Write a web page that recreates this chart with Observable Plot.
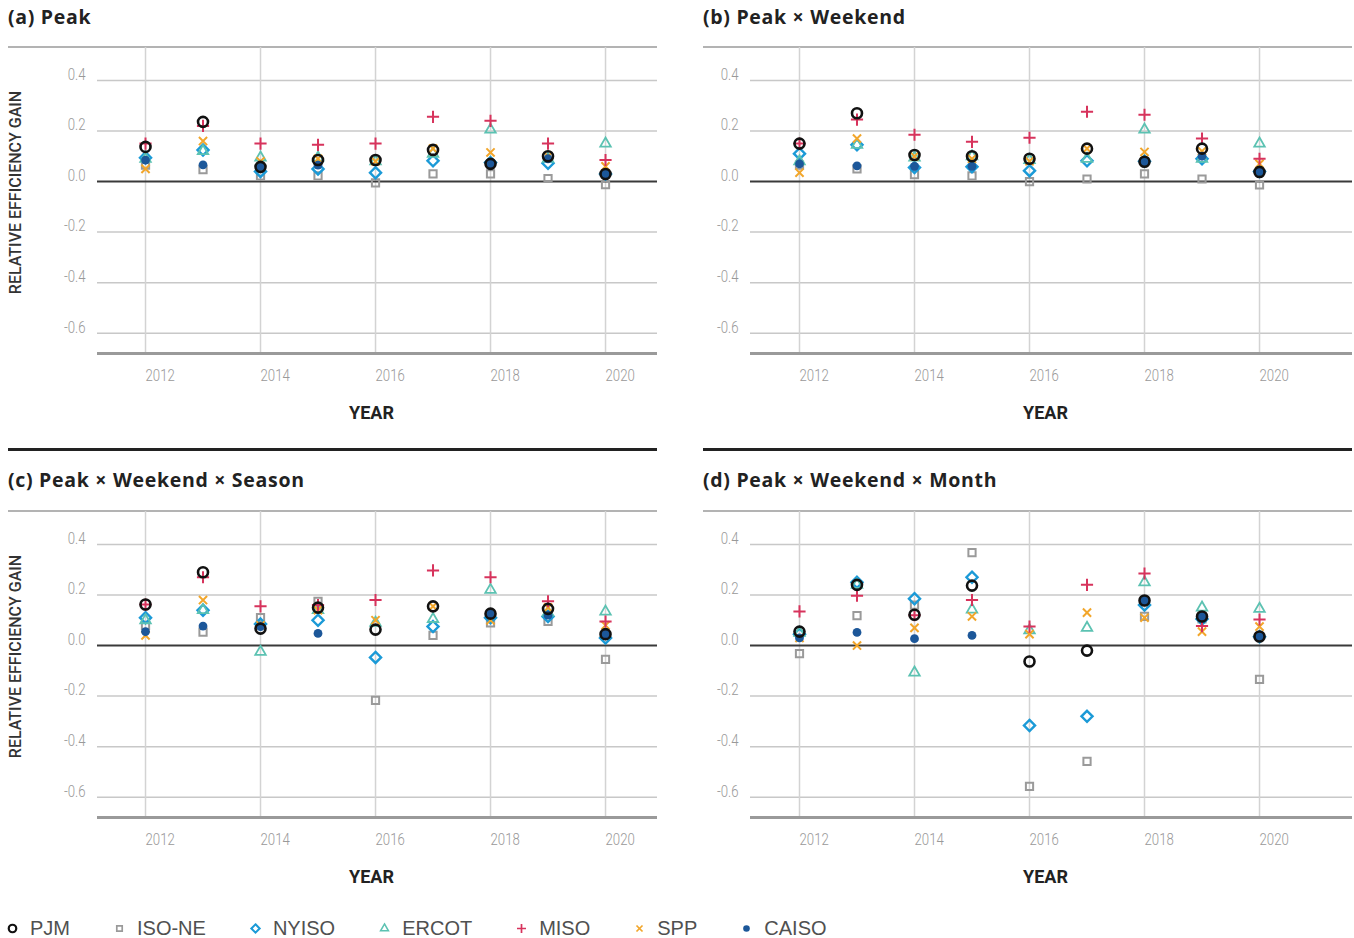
<!DOCTYPE html>
<html>
<head>
<meta charset="utf-8">
<script src="https://cdn.jsdelivr.net/npm/d3@7"></script>
<script src="https://cdn.jsdelivr.net/npm/@observablehq/plot@0.6"></script>
<style>
  body { margin: 0; background: #fff; }
  #root { position: relative; width: 1354px; height: 938px; overflow: hidden; background: #fff; }
  .title { position: absolute; font-family: "Open Sans", sans-serif; font-weight: 700; font-size: 19.5px; letter-spacing: 0.7px; line-height: 20px; color: #222; white-space: nowrap; }
  .rule { position: absolute; height: 2px; background: #b3b3b3; }
  .sep { position: absolute; height: 3px; background: #222; }
  .panel { position: absolute; }
  .legend { position: absolute; left: 5px; top: 915px; height: 26px; display: flex; align-items: center;
            font-family: "Liberation Sans", Arial, sans-serif; font-size: 20px; color: #505050; }
  .legend .item { display: flex; align-items: center; margin-right: 42px; }
  .legend .item span { margin-left: 11px; }
</style>
</head>
<body>
<div id="root"></div>
<script>
// ---------- data ----------
const years = [2012, 2013, 2014, 2015, 2016, 2017, 2018, 2019, 2020];
const seriesNames = ["PJM", "ISO-NE", "NYISO", "ERCOT", "MISO", "SPP", "CAISO"];
const xTicks = [2012, 2014, 2016, 2018, 2020];
const yTicks = [-0.6, -0.4, -0.2, 0, 0.2, 0.4];
const panelTitles = ["(a) Peak", "(b) Peak × Weekend", "(c) Peak × Weekend × Season", "(d) Peak × Weekend × Month"];
const xAxisLabel = "YEAR";
const yAxisLabel = "RELATIVE EFFICIENCY GAIN";

// rows follow seriesNames order, columns follow years
const peak = [
  [0.137, 0.236, 0.058, 0.085, 0.085, 0.125, 0.070, 0.100, 0.030],
  [0.065, 0.047, 0.022, 0.022, -0.005, 0.030, 0.030, 0.012, -0.012],
  [0.094, 0.125, 0.040, 0.050, 0.035, 0.082, 0.075, 0.072, 0.030],
  [0.090, 0.120, 0.095, 0.095, 0.080, 0.110, 0.205, 0.090, 0.150],
  [0.150, 0.220, 0.150, 0.145, 0.150, 0.256, 0.240, 0.150, 0.085],
  [0.050, 0.160, 0.080, 0.090, 0.080, 0.130, 0.115, 0.100, 0.060],
  [0.085, 0.066, 0.060, 0.065, null, null, 0.070, 0.090, 0.030]
];
const peakWeekend = [
  [0.150, 0.270, 0.105, 0.100, 0.090, 0.130, 0.078, 0.130, 0.038],
  [0.065, 0.050, 0.027, 0.022, 0.000, 0.010, 0.030, 0.010, -0.013],
  [0.110, 0.145, 0.055, 0.058, 0.043, 0.082, 0.080, 0.090, 0.040],
  [0.080, 0.145, 0.095, 0.100, 0.085, 0.090, 0.205, 0.090, 0.150],
  [0.150, 0.245, 0.185, 0.157, 0.173, 0.276, 0.264, 0.170, 0.090],
  [0.035, 0.170, 0.100, 0.090, 0.080, 0.130, 0.117, 0.120, 0.070],
  [0.070, 0.062, 0.060, 0.060, null, null, 0.078, 0.100, 0.040]
];
const peakWeekendSeason = [
  [0.162, 0.290, 0.067, 0.150, 0.063, 0.155, 0.126, 0.145, 0.045],
  [0.080, 0.053, 0.110, 0.175, -0.217, 0.040, 0.090, 0.095, -0.055],
  [0.110, 0.140, 0.085, 0.100, -0.047, 0.075, 0.110, 0.115, 0.030],
  [0.100, 0.140, -0.025, 0.140, 0.090, 0.105, 0.220, 0.130, 0.134],
  [0.162, 0.270, 0.155, 0.160, 0.180, 0.297, 0.270, 0.175, 0.095],
  [0.040, 0.180, 0.080, 0.140, 0.100, 0.155, 0.100, 0.150, 0.080],
  [0.055, 0.077, 0.075, 0.048, null, null, 0.125, 0.120, 0.045]
];
const peakWeekendMonth = [
  [0.055, 0.240, 0.122, 0.237, -0.063, -0.020, 0.178, 0.115, 0.036],
  [-0.032, 0.118, 0.160, 0.367, -0.557, -0.458, 0.115, 0.105, -0.134],
  [0.045, 0.250, 0.185, 0.270, -0.316, -0.280, 0.160, 0.105, 0.035],
  [0.050, 0.240, -0.107, 0.142, 0.060, 0.070, 0.250, 0.150, 0.145],
  [0.135, 0.197, 0.120, 0.180, 0.075, 0.240, 0.285, 0.077, 0.103],
  [0.030, 0.000, 0.070, 0.115, 0.045, 0.130, 0.110, 0.055, 0.075],
  [0.030, 0.052, 0.027, 0.040, null, null, 0.178, 0.115, 0.035]
];
const panelValues = [peak, peakWeekend, peakWeekendSeason, peakWeekendMonth];

// ---------- styles ----------
const seriesSymbols = ["circle", "square2", "diamond2", "triangle2", "plus", "times", "circle"];
const seriesColors = ["#111111", "#9a9a9a", "#1b9ad7", "#5cc2b2", "#d7335c", "#f2a62b", "#1c5799"];
const seriesFilled = [false, false, false, false, false, false, true];
const seriesR = [5, 4.6, 5, 5, 4, 3.8, 4.4];
const seriesStrokeW = [2.6, 2, 2.4, 1.8, 2, 2, 0];
const drawOrder = ["ISO-NE", "NYISO", "ERCOT", "SPP", "MISO", "CAISO", "PJM"];

const axisFont = 'Roboto, "Noto Sans", sans-serif';
const yDomain = [-0.68, 0.53];

const root = document.getElementById("root");

function addDiv(cls, css, text) {
  const d = document.createElement("div");
  d.className = cls;
  Object.assign(d.style, css);
  if (text) d.textContent = text;
  root.appendChild(d);
  return d;
}

// condensed look: compress glyph widths in place (chart must be in the DOM)
function squeeze(svg, selector, k) {
  svg.querySelectorAll(selector).forEach(t => {
    const len = t.getComputedTextLength();
    if (len > 0) {
      t.setAttribute("textLength", (len * k).toFixed(1));
      t.setAttribute("lengthAdjust", "spacingAndGlyphs");
    }
  });
}

function tidy(values) {
  const rows = [];
  seriesNames.forEach((s, i) => years.forEach((y, j) => {
    const v = values[i][j];
    if (v !== null && v !== undefined) rows.push({series: s, year: y, value: v});
  }));
  return rows;
}

function panel(values, {left, top, width, marginRight, xDomain, showYLabel}) {
  const rows = tidy(values);
  const dots = drawOrder.map(name => {
    const i = seriesNames.indexOf(name);
    return Plot.dot(rows.filter(d => d.series === name), {
      x: "year", y: "value",
      symbol: seriesSymbols[i],
      r: seriesR[i],
      stroke: seriesFilled[i] ? "none" : seriesColors[i],
      fill: seriesFilled[i] ? seriesColors[i] : "none",
      strokeWidth: seriesStrokeW[i]
    });
  });
  const chart = Plot.plot({
    width, height: 381,
    marginLeft: 97, marginRight, marginTop: 0, marginBottom: 75,
    x: {domain: xDomain},
    y: {domain: yDomain},
    style: {fontFamily: axisFont, background: "transparent", overflow: "visible"},
    marks: [
      Plot.gridY({ticks: yTicks.filter(t => t !== 0), stroke: "#c8c8c8", strokeOpacity: 1, strokeWidth: 1.5}),
      Plot.gridX({ticks: xTicks, stroke: "#d3d3d3", strokeOpacity: 1, strokeWidth: 1.5}),
      Plot.ruleY([0], {stroke: "#3a3a3a", strokeWidth: 2}),
      Plot.ruleY([yDomain[0]], {stroke: "#9a9a9a", strokeWidth: 3}),
      Plot.axisY({ticks: yTicks, tickFormat: d => d.toFixed(1), tickSize: 0, tickPadding: 12,
                  fontSize: 16.5, fontWeight: 300, fill: "#999", dy: -6, label: null}),
      Plot.axisX({ticks: xTicks, tickFormat: d => String(d), tickSize: 0, tickPadding: 16,
                  textAnchor: "start", fontSize: 16.5, fontWeight: 300, fill: "#999", label: null}),
      Plot.text([xAxisLabel], {frameAnchor: "bottom", lineAnchor: "middle", textAnchor: "middle",
                               dy: 60, dx: -6, fontWeight: "bold", fontSize: 18, fill: "#222", ariaLabel: "xlab"}),
      showYLabel ? Plot.text([yAxisLabel], {frameAnchor: "left", textAnchor: "middle", lineAnchor: "middle",
                               rotate: -90, dx: -82, dy: -8, fontSize: 16, fontWeight: 500, fill: "#333", ariaLabel: "ylab"}) : null,
      ...dots
    ]
  });
  chart.classList.add("panel");
  chart.style.left = left + "px";
  chart.style.top = top + "px";
  root.appendChild(chart);
  squeeze(chart, 'g[aria-label="y-axis tick label"] text, g[aria-label="x-axis tick label"] text', 0.8);
  squeeze(chart, 'g[aria-label="xlab"] text', 0.85);
  squeeze(chart, 'g[aria-label="ylab"] text', 0.8);
}

// separators and titles
addDiv("sep", {left: "8px", top: "448px", width: "649px"});
addDiv("sep", {left: "703px", top: "448px", width: "649px"});
addDiv("rule", {left: "8px", top: "46px", width: "649px"});
addDiv("rule", {left: "703px", top: "46px", width: "649px"});
addDiv("rule", {left: "8px", top: "510px", width: "649px"});
addDiv("rule", {left: "703px", top: "510px", width: "649px"});
addDiv("title", {left: "8px", top: "7px"}, panelTitles[0]);
addDiv("title", {left: "703px", top: "7px"}, panelTitles[1]);
addDiv("title", {left: "8px", top: "470px"}, panelTitles[2]);
addDiv("title", {left: "703px", top: "470px"}, panelTitles[3]);

const leftLayout = {width: 660, marginRight: 3, xDomain: [2011.165, 2020.904]};
const rightLayout = {width: 701, marginRight: 2, xDomain: [2011.148, 2021.617]};
panel(panelValues[0], {...leftLayout, left: 0, top: 47, showYLabel: true});
panel(panelValues[1], {...rightLayout, left: 653, top: 47, showYLabel: false});
panel(panelValues[2], {...leftLayout, left: 0, top: 511, showYLabel: true});
panel(panelValues[3], {...rightLayout, left: 653, top: 511, showYLabel: false});

// legend
const legend = addDiv("legend", {});
seriesNames.forEach((name, i) => {
  const item = document.createElement("div");
  item.className = "item";
  const sw = Plot.plot({
    width: 14, height: 20, margin: 0, axis: null,
    style: {background: "transparent", overflow: "visible"},
    marks: [Plot.dot([name], {
      frameAnchor: "middle",
      symbol: seriesSymbols[i],
      r: seriesR[i] * 0.75,
      stroke: seriesFilled[i] ? "none" : seriesColors[i],
      fill: seriesFilled[i] ? seriesColors[i] : "none",
      strokeWidth: Math.max(1.5, seriesStrokeW[i] * 0.85)
    })]
  });
  item.appendChild(sw);
  const label = document.createElement("span");
  label.textContent = name;
  item.appendChild(label);
  legend.appendChild(item);
});
</script>
</body>
</html>
